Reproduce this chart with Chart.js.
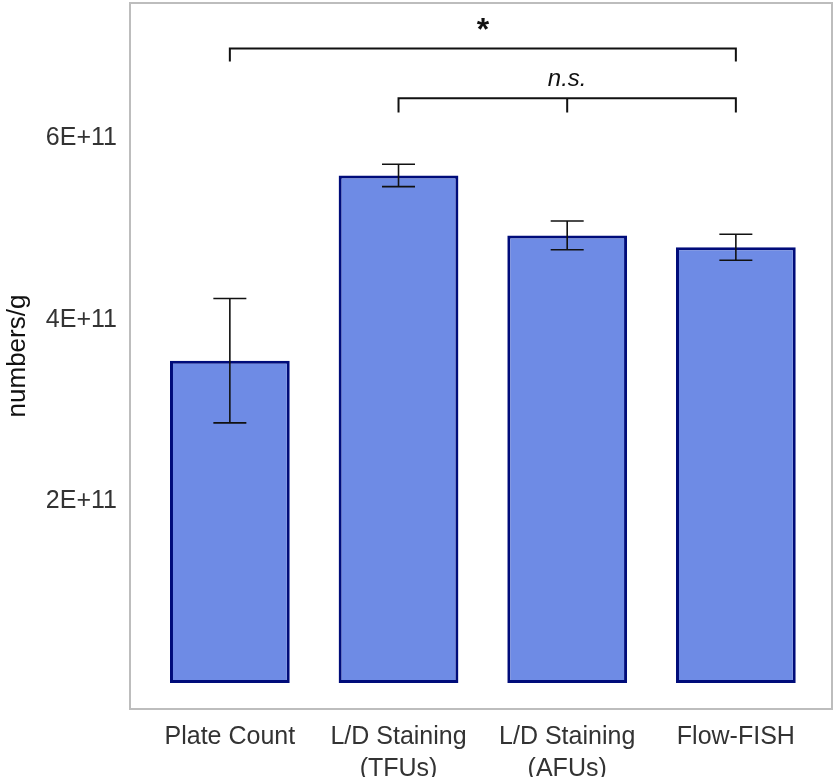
<!DOCTYPE html>
<html>
<head>
<meta charset="utf-8">
<script src="https://cdn.jsdelivr.net/npm/chart.js@4/dist/chart.umd.min.js"></script>
<style>
  html, body { margin: 0; padding: 0; background: #fff; }
  #wrap { width: 839px; height: 777px; }
</style>
</head>
<body>
<div id="wrap"><canvas id="chart"></canvas></div>
<script>
const categories = [["Plate Count"], ["L/D Staining", "(TFUs)"], ["L/D Staining", "(AFUs)"], ["Flow-FISH"]];
const means = [3.55e11, 5.59e11, 4.93e11, 4.80e11];
const errors = [0.685e11, 0.123e11, 0.158e11, 0.143e11];
const yTicks = [2e11, 4e11, 6e11];
const yTickLabels = ["2E+11", "4E+11", "6E+11"];
// significance brackets: category indices and height in data units
const brackets = [
  { from: 0, to: 3, mid: null, y: 6.99e11, drop: 0.145e11, label: "*" },
  { from: 1, to: 3, mid: 2, y: 6.44e11, drop: 0.155e11, label: "n.s." }
];

const FONT = "'Liberation Sans', Arial, sans-serif";

const extras = {
  id: "extras",
  afterDatasetsDraw(chart) {
    const ctx = chart.ctx;
    const xs = chart.scales.x;
    const ys = chart.scales.y;
    ctx.save();
    // error bars
    ctx.strokeStyle = "#111";
    ctx.lineWidth = 1.6;
    means.forEach((m, i) => {
      const x = xs.getPixelForValue(i);
      const top = ys.getPixelForValue(m + errors[i]);
      const bot = ys.getPixelForValue(m - errors[i]);
      ctx.beginPath();
      ctx.moveTo(x, top); ctx.lineTo(x, bot);
      ctx.moveTo(x - 16.5, top); ctx.lineTo(x + 16.5, top);
      ctx.moveTo(x - 16.5, bot); ctx.lineTo(x + 16.5, bot);
      ctx.stroke();
    });
    // brackets
    ctx.lineWidth = 2;
    brackets.forEach((b) => {
      const x1 = xs.getPixelForValue(b.from);
      const x2 = xs.getPixelForValue(b.to);
      const y = ys.getPixelForValue(b.y);
      const yd = ys.getPixelForValue(b.y - b.drop);
      ctx.beginPath();
      ctx.moveTo(x1, yd); ctx.lineTo(x1, y); ctx.lineTo(x2, y); ctx.lineTo(x2, yd);
      let cx = (x1 + x2) / 2;
      if (b.mid !== null) {
        cx = xs.getPixelForValue(b.mid);
        ctx.moveTo(cx, y); ctx.lineTo(cx, yd);
      }
      ctx.stroke();
      ctx.fillStyle = "#111";
      ctx.textAlign = "center";
      ctx.textBaseline = "middle";
      if (b.label === "*") {
        ctx.font = `bold 32px ${FONT}`;
        ctx.fillText(b.label, cx, y - 17);
      } else {
        ctx.font = `italic 24px ${FONT}`;
        ctx.fillText(b.label, cx, y - 19);
      }
    });
    // frame
    const a = chart.chartArea;
    ctx.strokeStyle = "#bdbdbd";
    ctx.lineWidth = 2;
    ctx.strokeRect(a.left, a.top, a.right - a.left, a.bottom - a.top);
    ctx.restore();
  }
};

new Chart(document.getElementById("chart"), {
  type: "bar",
  data: {
    datasets: [{
      data: means.map((v, i) => ({ x: i, y: v })),
      backgroundColor: "#6e8be5",
      borderColor: "#000c7a",
      borderWidth: 3,
      borderSkipped: false,
      barPercentage: 0.71,
      categoryPercentage: 1
    }]
  },
  options: {
    responsive: true,
    maintainAspectRatio: false,
    animation: false,
    layout: { padding: { top: 3, right: 7, left: 0, bottom: 0 } },
    plugins: { legend: { display: false }, tooltip: { enabled: false } },
    scales: {
      x: {
        type: "linear",
        offset: false,
        min: -0.592,
        max: 3.57,
        grid: { display: false, drawTicks: false, offset: false },
        border: { display: false },
        afterFit(scale) { scale.height = 68; scale.paddingLeft = 0; scale.paddingRight = 0; },
        afterBuildTicks(scale) { scale.ticks = categories.map((c, i) => ({ value: i })); },
        ticks: {
          autoSkip: false,
          maxRotation: 0,
          padding: 12,
          color: "#333",
          font: { family: FONT, size: 25, lineHeight: 1.28 },
          callback: (v) => categories[v]
        }
      },
      y: {
        min: -0.287e11,
        max: 7.49e11,
        grid: { display: false, drawTicks: false },
        border: { display: false },
        afterFit(scale) { scale.width = 130; scale.paddingTop = 0; scale.paddingBottom = 0; },
        afterBuildTicks(scale) { scale.ticks = yTicks.map((v) => ({ value: v })); },
        ticks: {
          padding: 13,
          color: "#333",
          font: { family: FONT, size: 25 },
          callback: (v) => yTickLabels[yTicks.indexOf(v)]
        },
        title: {
          display: true,
          text: "numbers/g",
          color: "#111",
          padding: { top: 2, bottom: 0 },
          font: { family: FONT, size: 26 }
        }
      }
    }
  },
  plugins: [extras]
});
</script>
</body>
</html>
